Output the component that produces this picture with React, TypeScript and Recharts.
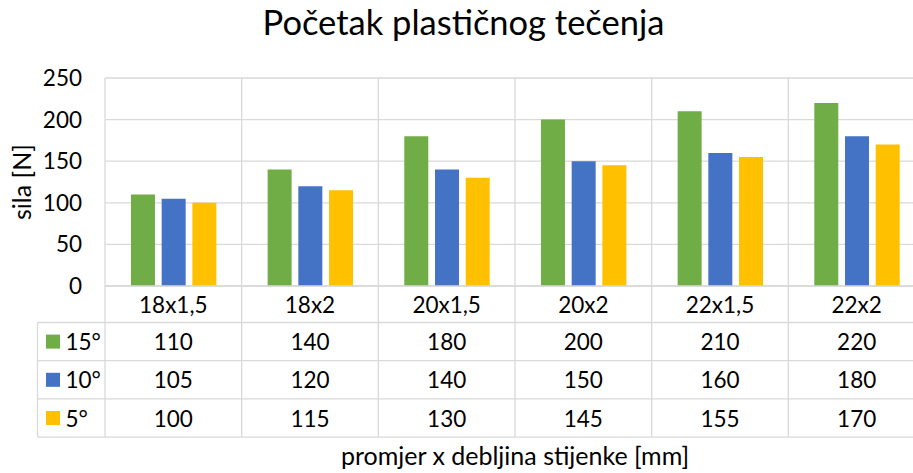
import { BarChart, Bar, XAxis, YAxis, CartesianGrid } from 'recharts';

const categories = ['18x1,5', '18x2', '20x1,5', '20x2', '22x1,5', '22x2'];
const angle15 = [110, 140, 180, 200, 210, 220];
const angle10 = [105, 120, 140, 150, 160, 180];
const angle5 = [100, 115, 130, 145, 155, 170];
const seriesNames = ['15°', '10°', '5°'];
const yTicks = [0, 50, 100, 150, 200, 250];

const COLORS = ['#70ad47', '#4472c4', '#ffc000'];
const GRID = '#d9d9d9';
const FONT = 'Lato, "Open Sans", sans-serif';
const FS = 22.5;

// layout (chart is a bit wider than the viewport, as in the cropped original)
const W = 927;
const H = 473;
const Y_W = 105;
const M = { top: 78, right: 2, left: 0, bottom: 30 };
const PLOT_W = W - Y_W - M.right;
const PLOT_H = 208;
const BAND = PLOT_W / categories.length;
const CAT_ROW = 36.5;
const ROW = 38.2;
const LEG_W = 67.5;
const TABLE_H = CAT_ROW + ROW * 3;

const seriesValues = [angle15, angle10, angle5];
const data = categories.map((c, i) => ({
  cat: c,
  s15: angle15[i],
  s10: angle10[i],
  s5: angle5[i],
}));

function TableTick(props: any) {
  const { x, y, payload, index } = props;
  const i = categories.indexOf(payload.value);
  const left = x - BAND / 2;
  const right = x + BAND / 2;
  const rowY = (k: number) => y + CAT_ROW + ROW * k;
  return (
    <g>
      <line x1={left} x2={left} y1={y - PLOT_H} y2={y + TABLE_H} stroke={GRID} strokeWidth={1.3} />
      {index === categories.length - 1 && (
        <line x1={right} x2={right} y1={y - PLOT_H} y2={y + TABLE_H} stroke={GRID} strokeWidth={1.3} />
      )}
      {[0, 1, 2, 3].map((k) => (
        <line
          key={k}
          x1={i === 0 ? left - LEG_W : left}
          x2={right}
          y1={rowY(k)}
          y2={rowY(k)}
          stroke={GRID}
          strokeWidth={1.3}
        />
      ))}
      <text x={x} y={y + CAT_ROW / 2} textAnchor="middle" dominantBaseline="central" fontSize={FS} fill="#000">
        {payload.value}
      </text>
      {seriesValues.map((vals, k) => (
        <text
          key={k}
          x={x}
          y={rowY(k) + ROW / 2}
          textAnchor="middle"
          dominantBaseline="central"
          fontSize={FS}
          fill="#000"
        >
          {vals[i]}
        </text>
      ))}
      {i === 0 && (
        <g>
          <line
            x1={left - LEG_W}
            x2={left - LEG_W}
            y1={rowY(0)}
            y2={rowY(3)}
            stroke={GRID}
            strokeWidth={1.3}
          />
          {seriesNames.map((name, k) => (
            <g key={name}>
              <rect x={left - LEG_W + 8.5} y={rowY(k) + ROW / 2 - 7} width={14} height={14} fill={COLORS[k]} />
              <text
                x={left - LEG_W + 28}
                y={rowY(k) + ROW / 2}
                dominantBaseline="central"
                fontSize={FS}
                fill="#000"
              >
                {name}
              </text>
            </g>
          ))}
        </g>
      )}
    </g>
  );
}

export default function App() {
  return (
    <div
      style={{
        position: 'fixed',
        left: 0,
        top: 0,
        width: 913,
        height: H,
        overflow: 'hidden',
        background: '#fff',
        fontFamily: FONT,
      }}
    >
      <div
        style={{
          position: 'absolute',
          left: 0,
          width: W,
          top: 0,
          textAlign: 'center',
          fontSize: 34.5,
          color: '#000',
          lineHeight: '44px',
        }}
      >
        Početak plastičnog tečenja
      </div>
      <BarChart
        width={W}
        height={H}
        data={data}
        margin={M}
        barCategoryGap="19%"
        barGap={6.7}
      >
        <CartesianGrid vertical={false} stroke={GRID} strokeWidth={1.3} />
        <XAxis
          dataKey="cat"
          height={H - M.top - M.bottom - PLOT_H}
          tickLine={false}
          tickSize={0}
          tickMargin={0}
          interval={0}
          axisLine={{ stroke: GRID, strokeWidth: 1.3 }}
          tick={<TableTick />}
        />
        <YAxis
          domain={[0, 250]}
          ticks={yTicks}
          width={Y_W}
          axisLine={false}
          tickLine={false}
          tickSize={0}
          tickMargin={23}
          tick={{ fontSize: FS, fill: '#000' }}
          label={{
            value: 'sila [N]',
            angle: -90,
            position: 'insideLeft',
            offset: 22,
            style: { fontSize: 25, fill: '#000', textAnchor: 'middle' },
          }}
        />
        <Bar dataKey="s15" name={seriesNames[0]} fill={COLORS[0]} isAnimationActive={false} />
        <Bar dataKey="s10" name={seriesNames[1]} fill={COLORS[1]} isAnimationActive={false} />
        <Bar dataKey="s5" name={seriesNames[2]} fill={COLORS[2]} isAnimationActive={false} />
      </BarChart>
      <div
        style={{
          position: 'absolute',
          left: Y_W,
          width: PLOT_W,
          top: 438,
          textAlign: 'center',
          fontSize: 25,
          color: '#000',
          lineHeight: '34px',
        }}
      >
        promjer x debljina stijenke [mm]
      </div>
    </div>
  );
}
